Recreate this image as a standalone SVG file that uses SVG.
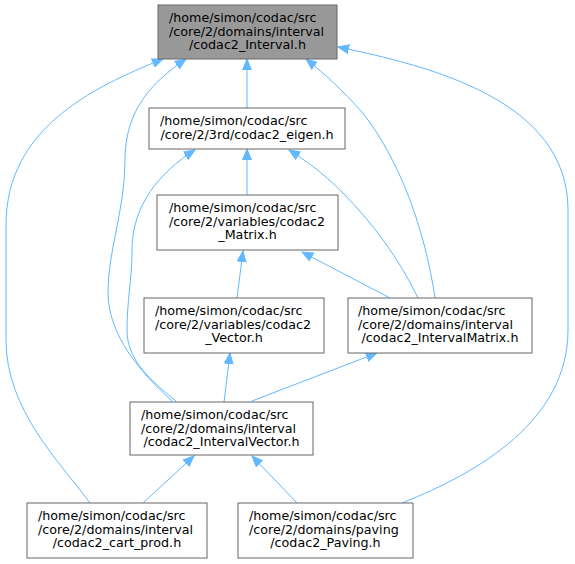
<svg xmlns="http://www.w3.org/2000/svg" width="575" height="564" viewBox="0 0 575 564">
<style>
.box{fill:#ffffff;stroke:#666666;stroke-width:1}
.cur{fill:#999999;stroke:#666666;stroke-width:1}
text{font-family:"DejaVu Sans",sans-serif;font-size:12.7px;fill:#000000}
.c{text-anchor:middle}
.e{fill:none;stroke:#63b8ff;stroke-width:1;marker-end:url(#ah)}
</style>
<defs>
<marker id="ah" markerUnits="userSpaceOnUse" markerWidth="12" markerHeight="10" refX="11" refY="4.5" orient="auto" viewBox="0 0 12 9">
<path d="M0,0 L11,4.5 L0,9 z" fill="#63b8ff" stroke="#63b8ff"/>
</marker>
</defs>
<g id="connectors">
<path class="e" d="M247,108 L247,59"/>
<path class="e" d="M247,195 L247,149"/>
<path class="e" d="M237,298 L243,251"/>
<path class="e" d="M390,298 L302,252"/>
<path class="e" d="M418,298 C400,260 372,222 342,192 C322,172 305,160 289,150"/>
<path class="e" d="M435,298 C425,230 400,160 362,112 C342,90 325,74 306,59"/>
<path class="e" d="M224,402 L230,353"/>
<path class="e" d="M252,401 L377,353"/>
<path class="e" d="M176,401 C150,380 127,360 127,330 C127,300 132,280 132,250 C132,205 160,172 195,150"/>
<path class="e" d="M172,401 C140,372 108,335 108,292 C108,250 125,210 125,160 C125,110 152,82 186,59"/>
<path class="e" d="M143,503 L194,456"/>
<path class="e" d="M297,503 L252,456"/>
<path class="e" d="M90,503 C60,462 6,410 6,340 L6,225 C6,130 90,88 163,59"/>
<path class="e" d="M402,503 C480,472 568,420 568,330 L568,210 C568,100 430,66 338,47"/>
</g>
<g id="node1">
<rect class="cur" x="158" y="5" width="179" height="54"/>
<text x="169" y="22">/home/simon/codac/src</text>
<text x="169" y="35.5">/core/2/domains/interval</text>
<text class="c" x="247.5" y="49">/codac2_Interval.h</text>
</g>
<g id="node2">
<rect class="box" x="149" y="108" width="196" height="41"/>
<text x="160" y="125">/home/simon/codac/src</text>
<text class="c" x="247" y="138.5">/core/2/3rd/codac2_eigen.h</text>
</g>
<g id="node3">
<rect class="box" x="157" y="195" width="181" height="55"/>
<text x="169" y="212">/home/simon/codac/src</text>
<text x="169" y="225.5">/core/2/variables/codac2</text>
<text class="c" x="247.5" y="239">_Matrix.h</text>
</g>
<g id="node4">
<rect class="box" x="144" y="298" width="180" height="55"/>
<text x="155" y="315">/home/simon/codac/src</text>
<text x="155" y="328.5">/core/2/variables/codac2</text>
<text class="c" x="234" y="342">_Vector.h</text>
</g>
<g id="node5">
<rect class="box" x="348" y="298" width="184" height="55"/>
<text x="358" y="315">/home/simon/codac/src</text>
<text x="358" y="328.5">/core/2/domains/interval</text>
<text class="c" x="440" y="342">/codac2_IntervalMatrix.h</text>
</g>
<g id="node6">
<rect class="box" x="130" y="402" width="183" height="53"/>
<text x="141" y="419">/home/simon/codac/src</text>
<text x="141" y="432.5">/core/2/domains/interval</text>
<text class="c" x="221.5" y="446">/codac2_IntervalVector.h</text>
</g>
<g id="node7">
<rect class="box" x="27" y="503" width="180" height="55"/>
<text x="38" y="520">/home/simon/codac/src</text>
<text x="38" y="533.5">/core/2/domains/interval</text>
<text class="c" x="117" y="547">/codac2_cart_prod.h</text>
</g>
<g id="node8">
<rect class="box" x="238" y="503" width="175" height="55"/>
<text x="249" y="520">/home/simon/codac/src</text>
<text x="249" y="533.5">/core/2/domains/paving</text>
<text class="c" x="325.5" y="547">/codac2_Paving.h</text>
</g>
</svg>
